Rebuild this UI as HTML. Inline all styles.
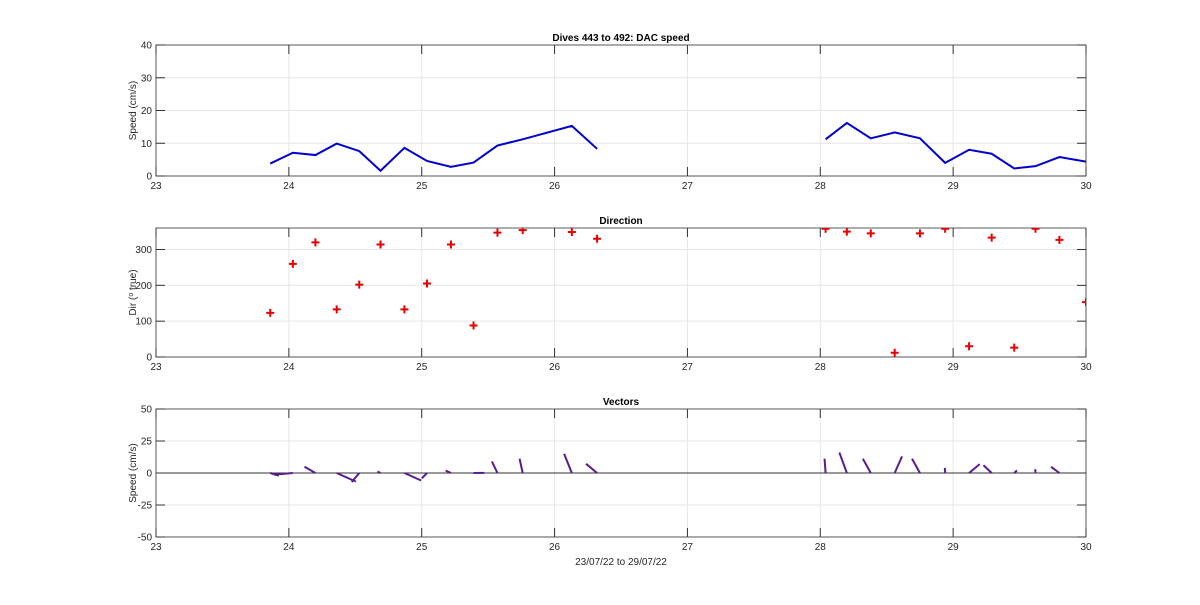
<!DOCTYPE html>
<html><head><meta charset="utf-8"><style>
html,body{margin:0;padding:0;background:#fff;}
svg{display:block;font-family:"Liberation Sans",Arial,sans-serif;}
</style></head><body>
<svg id="fig" width="1200" height="605"></svg>
<script>
const speedT1=[23.86,24.03,24.20,24.36,24.53,24.69,24.87,25.04,25.22,25.39,25.57,25.76,26.13,26.32];
const speedV1=[3.8,7.1,6.4,9.9,7.6,1.6,8.6,4.6,2.8,4.1,9.3,11.2,15.3,8.3];
const dir1=[123,260,320,133,202,314,133,205,314,88,347,354,349,330];
const speedT2=[28.04,28.20,28.38,28.56,28.75,28.94,29.12,29.29,29.46,29.62,29.80,30.0];
const speedV2=[11.2,16.2,11.5,13.3,11.5,4.0,8.0,6.8,2.3,3.0,5.8,4.4];
const dir2=[358,350,345,12,345,358,30,333,26,358,327,153];
const xTicks=[23,24,25,26,27,28,29,30];
const speedTicks=[0,10,20,30,40];
const dirTicks=[0,100,200,300];
const vecTicks=[-50,-25,0,25,50];

const NS="http://www.w3.org/2000/svg";
const svg=document.getElementById('fig');
function el(tag,attrs,parent){const e=document.createElementNS(NS,tag);for(const k in attrs)e.setAttribute(k,attrs[k]);(parent||svg).appendChild(e);return e;}
const X0=156,X1=1086;
const xs=t=>X0+(t-23)/(30-23)*(X1-X0);
const defs=el('defs',{});

function axes(name,top,bot,ymin,ymax,yTicks,title,ylabel){
  const g=el('g',{});
  
  
  const cp=el('clipPath',{id:'clip-'+name},defs);
  el('rect',{x:X0,y:top,width:X1-X0,height:bot-top},cp);
  const ys=v=>bot-(v-ymin)/(ymax-ymin)*(bot-top);
  el('rect',{x:X0,y:top,width:X1-X0,height:bot-top,fill:'#fff'},g);
  xTicks.forEach(t=>{el('line',{x1:xs(t),x2:xs(t),y1:top,y2:bot,stroke:'#e6e6e6','stroke-width':1},g);});
  yTicks.forEach(v=>{el('line',{x1:X0,x2:X1,y1:ys(v),y2:ys(v),stroke:'#e6e6e6','stroke-width':1},g);});
  el('rect',{x:X0,y:top,width:X1-X0,height:bot-top,fill:'none',stroke:'#333','stroke-width':0.8},g);
  xTicks.forEach(t=>{
    el('line',{x1:xs(t),x2:xs(t),y1:bot,y2:bot-9,stroke:'#333'},g);
    el('line',{x1:xs(t),x2:xs(t),y1:top,y2:top+9,stroke:'#333'},g);
    const tx=el('text',{x:xs(t),y:bot+13,'text-anchor':'middle','font-size':10,fill:'#262626'},g);
    tx.textContent=t;
    
    
  });
  yTicks.forEach(v=>{
    el('line',{x1:X0,x2:X0+9,y1:ys(v),y2:ys(v),stroke:'#333'},g);
    el('line',{x1:X1,x2:X1-9,y1:ys(v),y2:ys(v),stroke:'#333'},g);
    const tx=el('text',{x:X0-4,y:ys(v)+3.5,'text-anchor':'end','font-size':10,fill:'#262626'},g);
    tx.textContent=v;
    
    
  });
  const tt=el('text',{x:(X0+X1)/2,y:top-4,'text-anchor':'middle','font-size':10,'font-weight':'bold',fill:'#000'},g);
  tt.textContent=title;
  
  
  const yl=el('text',{x:0,y:0,'text-anchor':'middle','font-size':10,fill:'#262626',transform:`translate(${X0-20},${(top+bot)/2}) rotate(-90)`},g);
  yl.innerHTML=ylabel;
  
  
  const mg=el('g',{'clip-path':`url(#clip-${name})`});
  
  
  return [ys,mg];
}

const [ys1,g1]=axes('speed-panel',45,176,0,40,speedTicks,'Dives 443 to 492: DAC speed','Speed (cm/s)');
[[speedT1,speedV1],[speedT2,speedV2]].forEach(([T,V],i)=>{
  const p=el('polyline',{points:T.map((t,j)=>xs(t)+','+ys1(V[j])).join(' '),fill:'none',stroke:'#0000cc','stroke-width':2},g1);
  
  
});

const [ys2,g2]=axes('direction-panel',228,357,0,360,dirTicks,'Direction','Dir (<tspan baseline-shift="super" font-size="7">o</tspan> true)');
[[speedT1,dir1],[speedT2,dir2]].forEach(([T,D])=>{
  T.forEach((t,j)=>{
    const cx=xs(t),cy=ys2(D[j]);
    const m=el('path',{d:`M${cx-4},${cy}H${cx+4}M${cx},${cy-4}V${cy+4}`,stroke:'#e60000','stroke-width':2},g2);
    
    
  });
});

const [ys3,g3]=axes('vectors-panel',409,537,-50,50,vecTicks,'Vectors','Speed (cm/s)');
const z=el('line',{x1:X0,x2:X1,y1:ys3(0),y2:ys3(0),stroke:'#333','stroke-width':1},g3);


const K=0.02;
[[speedT1,speedV1,dir1],[speedT2,speedV2,dir2]].forEach(([T,V,D])=>{
  T.forEach((t,j)=>{
    const r=D[j]*Math.PI/180;
    const u=V[j]*Math.sin(r),v=V[j]*Math.cos(r);
    const l=el('line',{x1:xs(t),y1:ys3(0),x2:xs(t+u*K),y2:ys3(v),stroke:'#5a1c8c','stroke-width':2},g3);
    
    
  });
});

const xl=el('text',{x:(X0+X1)/2,y:565,'text-anchor':'middle','font-size':10,fill:'#262626'});
xl.textContent='23/07/22 to 29/07/22';


</script>
</body></html>
